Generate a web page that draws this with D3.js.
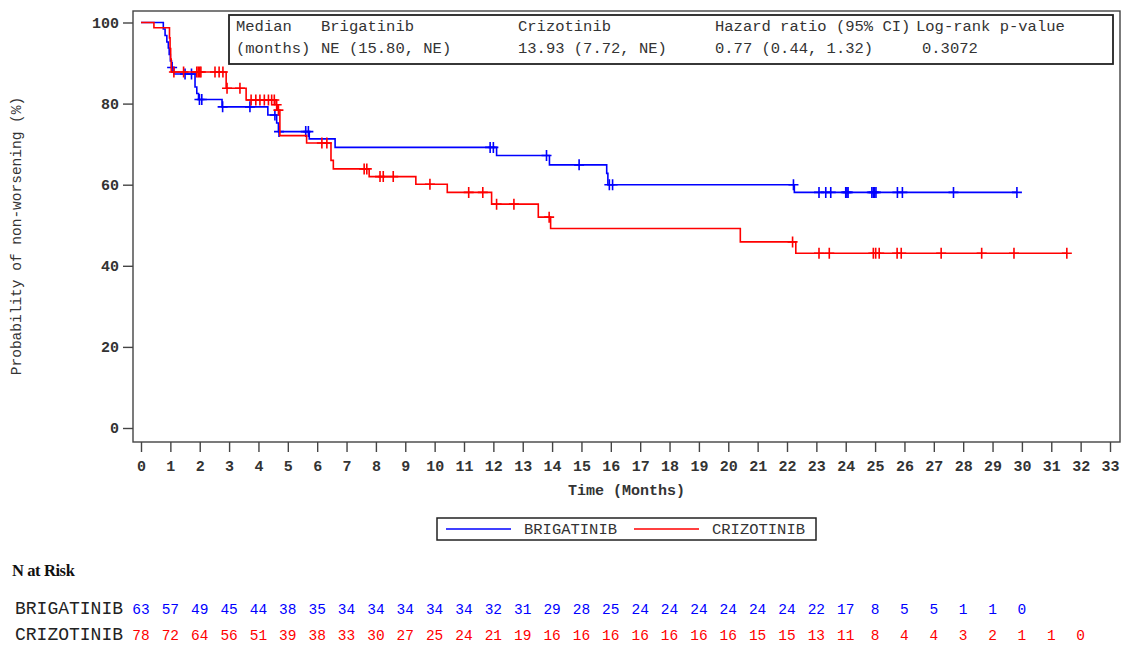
<!DOCTYPE html>
<html>
<head>
<meta charset="utf-8">
<script src="https://cdn.jsdelivr.net/npm/d3@7"></script>
<style>
  body { margin: 0; background: #fff; }
  svg { display: block; }
  text { font-family: "Liberation Mono", "Courier New", monospace; }
</style>
</head>
<body>
<svg id="chart" width="1124" height="645"></svg>
<script>
// Kaplan-Meier steps: [time (months), % non-worsening after the event]
const brigatinibSteps = [
  [0.76, 98.4], [0.82, 96.8], [0.88, 95.2], [0.93, 93.7], [0.96, 92.1], [1.0, 90.5],
  [1.04, 88.9], [1.12, 87.3], [1.84, 84.1], [1.9, 82.5], [1.96, 81.0], [2.76, 79.2],
  [4.32, 77.2], [4.62, 75.2], [4.68, 73.1], [5.73, 71.3], [6.61, 69.2], [12.11, 67.2],
  [13.91, 64.9], [15.86, 62.8], [15.9, 60.0], [22.25, 58.1]
];
const brigatinibCensored = [
  1.06, 1.5, 1.72, 1.99, 2.07, 2.78, 3.71, 4.56, 4.7, 5.61, 5.7, 11.89, 12.0, 13.81,
  14.92, 15.95, 16.06, 22.22, 23.09, 23.32, 23.49, 24.0, 24.04, 24.08, 24.89, 24.94,
  24.98, 25.03, 25.76, 25.93, 27.67, 29.83
];
const crizotinibSteps = [
  [0.44, 98.7], [0.97, 96.2], [0.99, 93.6], [1.01, 91.0], [1.03, 87.8], [2.9, 83.8],
  [3.58, 80.9], [4.6, 79.7], [4.65, 78.4], [4.73, 72.1], [5.64, 70.3], [6.47, 66.0],
  [6.55, 63.9], [7.77, 62.0], [9.36, 60.1], [10.43, 58.1], [11.94, 55.2], [13.53, 52.0],
  [13.95, 49.2], [20.41, 45.9], [22.3, 43.1]
];
const crizotinibCensored = [
  1.12, 1.45, 1.9, 1.95, 2.0, 2.04, 2.52, 2.66, 2.79, 2.93, 3.37, 3.75, 3.91, 4.05, 4.2,
  4.34, 4.45, 4.54, 4.62, 4.68, 6.16, 6.33, 7.6, 7.69, 8.14, 8.25, 8.59, 9.84, 11.16,
  11.64, 12.11, 12.7, 13.9, 22.19, 23.09, 23.44, 24.94, 25.02, 25.14, 25.75, 25.89,
  27.25, 28.63, 29.73, 31.53
];

// Number at risk at each whole month
const brigatinibAtRisk = [63,57,49,45,44,38,35,34,34,34,34,34,32,31,29,28,25,24,24,24,24,24,24,22,17,8,5,5,1,1,0];
const crizotinibAtRisk = [78,72,64,56,51,39,38,33,30,27,25,24,21,19,16,16,16,16,16,16,16,15,15,13,11,8,4,4,3,2,1,1,0];

const xTicks = d3.range(0, 34);
const yTicks = [0, 20, 40, 60, 80, 100];

// Summary statistics box
const statHeaders = ["Median", "Brigatinib", "Crizotinib", "Hazard ratio (95% CI)", "Log-rank p-value"];
const statValues  = ["(months)", "NE (15.80, NE)", "13.93 (7.72, NE)", "0.77 (0.44, 1.32)", "0.3072"];

const arms = [
  { name: "BRIGATINIB", color: "#0000ff", steps: brigatinibSteps, censored: brigatinibCensored, atRisk: brigatinibAtRisk },
  { name: "CRIZOTINIB", color: "#ff0000", steps: crizotinibSteps, censored: crizotinibCensored, atRisk: crizotinibAtRisk }
];

const svg = d3.select("#chart");
const frame = { left: 133, top: 11, right: 1120, bottom: 442 };

const x = d3.scaleLinear().domain([0, 33]).range([141, 1110]);
const y = d3.scaleLinear().domain([0, 100]).range([428, 22.5]);

const ink = "#333";

// plot frame
svg.append("rect")
  .attr("x", frame.left).attr("y", frame.top)
  .attr("width", frame.right - frame.left).attr("height", frame.bottom - frame.top)
  .attr("fill", "none").attr("stroke", "#444").attr("stroke-width", 1.4);

// axes
const xAxis = svg.append("g")
  .attr("transform", `translate(0,${frame.bottom})`)
  .call(d3.axisBottom(x).tickValues(xTicks).tickSize(10).tickPadding(8).tickFormat(d3.format("d")));
const yAxis = svg.append("g")
  .attr("transform", `translate(${frame.left},0)`)
  .call(d3.axisLeft(y).tickValues(yTicks).tickSize(10).tickPadding(4).tickFormat(d3.format("d")));
[xAxis, yAxis].forEach(g => {
  g.select(".domain").remove();
  g.selectAll(".tick line").attr("stroke", "#444").attr("stroke-width", 1.4);
  g.selectAll(".tick text")
    .attr("fill", ink)
    .style("font-family", '"Liberation Mono","Courier New",monospace')
    .style("font-size", "15px").style("font-weight", "bold");
});

svg.append("text")
  .attr("x", (frame.left + frame.right) / 2).attr("y", 495)
  .attr("text-anchor", "middle").attr("fill", ink)
  .style("font-size", "15px").style("font-weight", "bold")
  .text("Time (Months)");

svg.append("text")
  .attr("transform", "translate(21,236) rotate(-90)")
  .attr("text-anchor", "middle").attr("fill", ink)
  .style("font-size", "14.5px")
  .text("Probability of non-worsening (%)");

// survival curves
const line = d3.line().x(d => x(d[0])).y(d => y(d[1])).curve(d3.curveStepAfter);
function valueAt(steps, t) {
  let v = 100;
  for (const [ts, s] of steps) if (ts <= t) v = s;
  return v;
}
arms.forEach(arm => {
  const lastT = d3.max(arm.censored);
  const pts = [[0, 100], ...arm.steps, [lastT, valueAt(arm.steps, lastT)]];
  svg.append("path").datum(pts)
    .attr("d", line).attr("fill", "none")
    .attr("stroke", arm.color).attr("stroke-width", 1.6);
  svg.append("g").selectAll("path").data(arm.censored).join("path")
    .attr("transform", t => `translate(${x(t)},${y(valueAt(arm.steps, t))})`)
    .attr("d", "M-5,0H5M0,-5.5V5.5")
    .attr("stroke", arm.color).attr("stroke-width", 1.6).attr("fill", "none");
});

// statistics inset
const inset = svg.append("g");
inset.append("rect")
  .attr("x", 229).attr("y", 15).attr("width", 884).attr("height", 49)
  .attr("fill", "#fff").attr("stroke", "#222").attr("stroke-width", 1.8);
const colX = [236, 321, 518, 715, 916];
const valX = [236, 321, 518, 715, 922];
inset.selectAll("text.h").data(statHeaders).join("text")
  .attr("class", "h").attr("x", (d, i) => colX[i]).attr("y", 31)
  .attr("fill", ink).style("font-size", "15.5px").text(d => d);
inset.selectAll("text.v").data(statValues).join("text")
  .attr("class", "v").attr("x", (d, i) => valX[i]).attr("y", 53)
  .attr("fill", ink).style("font-size", "15.5px").text(d => d);

// legend
const legend = svg.append("g");
legend.append("rect")
  .attr("x", 437).attr("y", 518).attr("width", 379).attr("height", 22)
  .attr("fill", "none").attr("stroke", "#222").attr("stroke-width", 1.5);
const legendX = [446, 634];
arms.forEach((arm, i) => {
  legend.append("line")
    .attr("x1", legendX[i]).attr("x2", legendX[i] + 65)
    .attr("y1", 529).attr("y2", 529)
    .attr("stroke", arm.color).attr("stroke-width", 1.5);
  legend.append("text")
    .attr("x", legendX[i] + 78).attr("y", 534)
    .attr("fill", ink).style("font-size", "15.5px")
    .text(arm.name);
});

// number-at-risk table
svg.append("text")
  .attr("x", 12).attr("y", 576)
  .attr("fill", "#111")
  .style("font-family", '"Liberation Serif","Times New Roman",serif')
  .style("font-size", "16.5px").style("font-weight", "bold")
  .style("letter-spacing", "-0.4px")
  .text("N at Risk");
const rowY = [614, 640];
arms.forEach((arm, i) => {
  svg.append("text")
    .attr("x", 15).attr("y", rowY[i])
    .attr("fill", "#222").style("font-size", "18px")
    .text(arm.name);
  svg.append("g").selectAll("text").data(arm.atRisk).join("text")
    .attr("x", (d, j) => x(j)).attr("y", rowY[i] - 0.5)
    .attr("text-anchor", "middle")
    .attr("fill", arm.color).style("font-size", "14.5px")
    .text(d => d);
});
</script>
</body>
</html>
